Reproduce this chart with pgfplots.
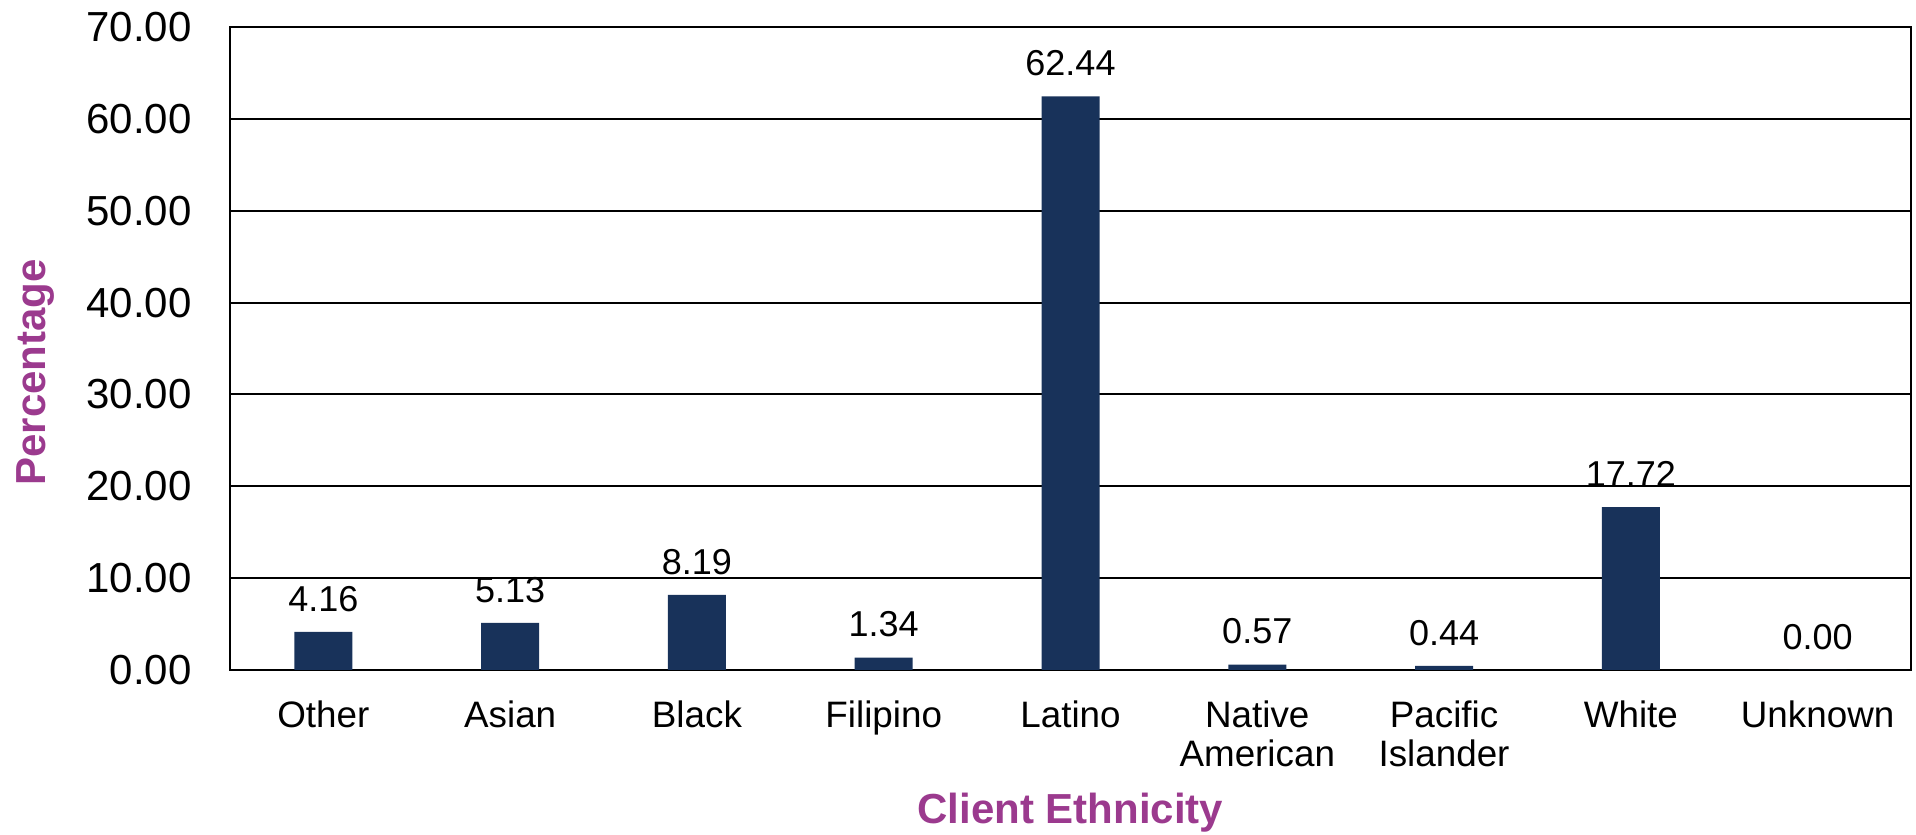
\documentclass[border=0pt]{standalone}
\usepackage{fontspec}
\setmainfont{Liberation Sans}
\usepackage{pgfplots}
\pgfplotsset{compat=1.18}
\definecolor{barnavy}{RGB}{24,50,90}
\definecolor{labpurple}{RGB}{155,58,142}
\begin{document}
\begin{tikzpicture}
\begin{axis}[
  name=ax,
  scale only axis,
  width=840.5pt, height=321.5pt,
  xmin=-0.5, xmax=8.5,
  ymin=0, ymax=70,
  ytick={0,10,...,70},
  xtick={0,...,8},
  xticklabels={Other,Asian,Black,Filipino,Latino,{Native\\American},{Pacific\\Islander},White,Unknown},
  major tick length=0pt,
  ymajorgrids,
  grid style={black, line width=1pt},
  axis line style={black, line width=1.2pt},
  clip=false,
  /pgf/number format/.cd, fixed, fixed zerofill, precision=2, assume math mode=true, /pgfplots/.cd,
  yticklabel style={font=\fontsize{21}{25}\selectfont, anchor=east, inner sep=0pt, xshift=-19pt},
  xticklabel style={font=\fontsize{18.4}{19.5}\selectfont, align=center, anchor=north, inner sep=0pt, yshift=-15pt},
  ylabel={Percentage},
  xlabel={Client Ethnicity},
  label style={font=\fontsize{21}{25}\selectfont\bfseries, text=labpurple},
  ylabel style={at={(rel axis cs:-0.116,0.463)}, anchor=center},
  xlabel style={at={(rel axis cs:0.5,-0.238)}, anchor=base},
  nodes near coords,
  nodes near coords style={font=\fontsize{18}{20}\selectfont, inner sep=0pt, yshift=10pt, text=black},
]
\addplot[ybar, bar width=29pt, fill=barnavy, draw=none] coordinates {
  (0,4.16) (1,5.13) (2,8.19) (3,1.34) (4,62.44) (5,0.57) (6,0.44) (7,17.72) (8,0.00)
};
\end{axis}
\pgfresetboundingbox
\path[use as bounding box] ([shift={(-115pt,-82.5pt)}]ax.south west) rectangle ([shift={(2.5pt,13.5pt)}]ax.north east);
\end{tikzpicture}
\end{document}
